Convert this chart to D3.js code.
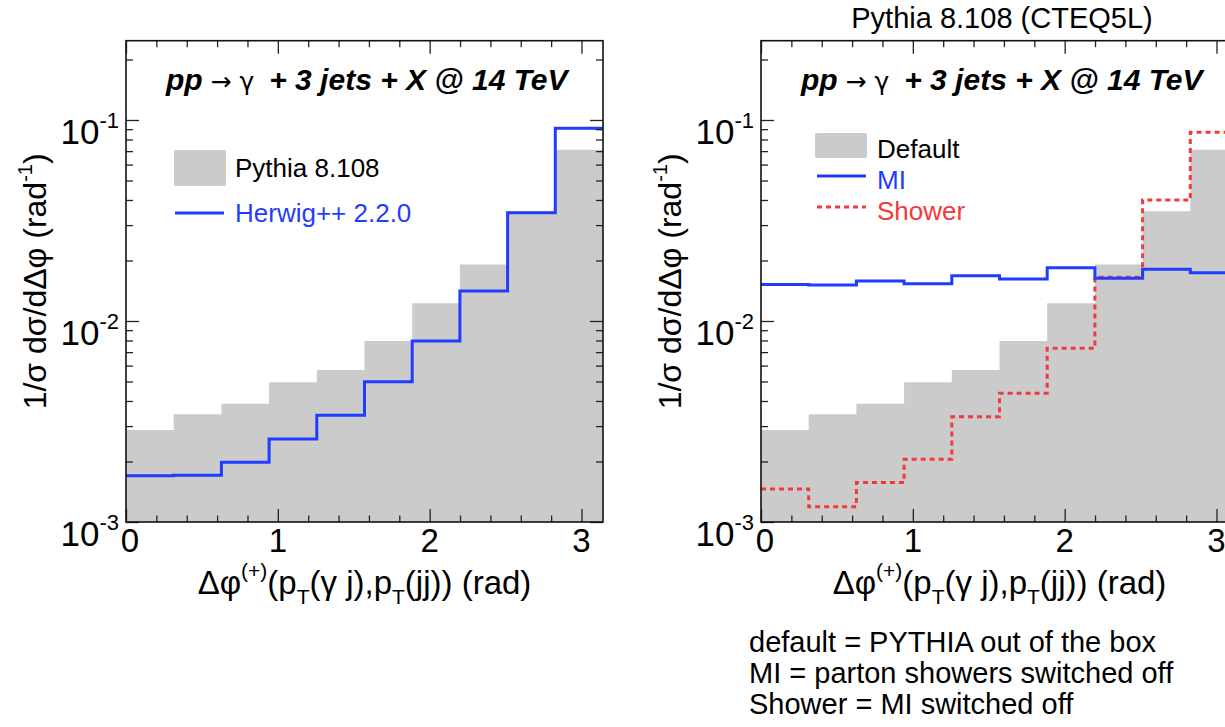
<!DOCTYPE html>
<html>
<head>
<meta charset="utf-8">
<script src="https://cdn.jsdelivr.net/npm/d3@7"></script>
<style>
  body { margin: 0; background: #fff; }
  svg { display: block; }
  text { font-family: "Liberation Sans", Arial, Helvetica, sans-serif; fill: #000; }
</style>
</head>
<body>
<svg id="fig" width="1225" height="727"></svg>
<script>
// Histogram binning: 10 equal bins over [0, pi]
const xMin = 0, xMax = Math.PI, nBins = 10;

// 1/sigma dsigma/dDeltaphi per bin
const pythiaDefault = [0.00287, 0.00344, 0.00387, 0.00496, 0.0057, 0.00795, 0.01225, 0.0191, 0.0352, 0.0712];
const herwig        = [0.00170, 0.00171, 0.00198, 0.00259, 0.0034, 0.00499, 0.00795, 0.0141, 0.0346, 0.091];
const miOnly        = [0.0152, 0.0151, 0.0158, 0.0153, 0.0168, 0.0162, 0.0184, 0.0163, 0.0181, 0.0174];
const showerOnly    = [0.00146, 0.00119, 0.00157, 0.00205, 0.00334, 0.00437, 0.00731, 0.0165, 0.0400, 0.0869];

// Axis ticks
const xMajorTicks = [0, 1, 2, 3];
const yMajorTicks = [1e-3, 1e-2, 1e-1];
const yTickExponents = ["-3", "-2", "-1"];
const yMin = 1e-3, yMax = 0.248;

// Text
const processLabel = { a: "pp", b: " \u2192 \u03B3 ", c: "+ 3 jets + X @ 14 TeV" };
const leftLegend = ["Pythia 8.108", "Herwig++ 2.2.0"];
const rightLegend = ["Default", "MI", "Shower"];
const rightTitle = "Pythia 8.108 (CTEQ5L)";
const notes = ["default = PYTHIA out of the box", "MI = parton showers switched off", "Shower = MI switched off"];

const colFill = "#cbcbcb", colBlue = "#1f3cff", colRed = "#f23a3a";

const svg = d3.select("#fig");
const frameTop = 40.7, frameBottom = 522, frameWidth = 477;
const edges = d3.range(nBins + 1).map(i => xMin + (xMax - xMin) * i / nBins);

function stepPoints(vals) {
  return edges.map((e, i) => [e, vals[Math.min(i, vals.length - 1)]]);
}

function panel(left, id) {
  const x = d3.scaleLinear().domain([xMin, xMax]).range([left, left + frameWidth]);
  const y = d3.scaleLog().domain([yMin, yMax]).range([frameBottom, frameTop]);
  const g = svg.append("g");

  g.append("clipPath").attr("id", "clip" + id)
    .append("rect").attr("x", left).attr("y", frameTop).attr("width", frameWidth).attr("height", frameBottom - frameTop);
  const plot = g.append("g").attr("clip-path", `url(#clip${id})`);

  const line = d3.line().x(d => x(d[0])).y(d => y(d[1])).curve(d3.curveStepAfter);
  const area = d3.area().x(d => x(d[0])).y0(frameBottom).y1(d => y(d[1])).curve(d3.curveStepAfter);

  plot.append("path").attr("d", area(stepPoints(pythiaDefault))).attr("fill", colFill);

  // ticks (inside the frame, mirrored on all sides)
  const xMinor = d3.range(0, 3.15, 0.2).filter(v => Math.abs(v - Math.round(v)) > 1e-6);
  const yMinor = [];
  [-3, -2, -1].forEach(k => d3.range(2, 10).forEach(m => {
    const v = m * Math.pow(10, k);
    if (v <= yMax) yMinor.push(v);
  }));
  const dropDomain = sel => sel.selectAll(".domain").remove();
  const styleTicks = sel => sel.selectAll("line").attr("stroke", "#222").attr("stroke-width", 1.3);

  g.append("g").attr("transform", `translate(0,${frameBottom})`)
    .call(d3.axisBottom(x).tickValues(xMajorTicks).tickSize(-13).tickFormat(""))
    .call(dropDomain).call(styleTicks);
  g.append("g").attr("transform", `translate(0,${frameBottom})`)
    .call(d3.axisBottom(x).tickValues(xMinor).tickSize(-6.5).tickFormat(""))
    .call(dropDomain).call(styleTicks);
  g.append("g").attr("transform", `translate(0,${frameTop})`)
    .call(d3.axisTop(x).tickValues(xMajorTicks).tickSize(-13).tickFormat(""))
    .call(dropDomain).call(styleTicks);
  g.append("g").attr("transform", `translate(0,${frameTop})`)
    .call(d3.axisTop(x).tickValues(xMinor).tickSize(-6.5).tickFormat(""))
    .call(dropDomain).call(styleTicks);
  g.append("g").attr("transform", `translate(${left},0)`)
    .call(d3.axisLeft(y).tickValues(yMajorTicks).tickSize(-13).tickFormat(""))
    .call(dropDomain).call(styleTicks);
  g.append("g").attr("transform", `translate(${left},0)`)
    .call(d3.axisLeft(y).tickValues(yMinor).tickSize(-7).tickFormat(""))
    .call(dropDomain).call(styleTicks);
  g.append("g").attr("transform", `translate(${left + frameWidth},0)`)
    .call(d3.axisRight(y).tickValues(yMajorTicks).tickSize(-13).tickFormat(""))
    .call(dropDomain).call(styleTicks);
  g.append("g").attr("transform", `translate(${left + frameWidth},0)`)
    .call(d3.axisRight(y).tickValues(yMinor).tickSize(-7).tickFormat(""))
    .call(dropDomain).call(styleTicks);

  g.append("rect").attr("x", left).attr("y", frameTop).attr("width", frameWidth).attr("height", frameBottom - frameTop)
    .attr("fill", "none").attr("stroke", "#111").attr("stroke-width", 1.6);

  // x tick labels
  g.selectAll(".xl").data(xMajorTicks).join("text")
    .attr("x", d => x(d) + (d === 0 ? 4 : 0)).attr("y", 552).attr("text-anchor", "middle")
    .attr("font-size", 33).text(d => d);

  // y tick labels 10^k
  yMajorTicks.forEach((v, i) => {
    const t = g.append("text").attr("x", left - 7).attr("y", y(v) + 24)
      .attr("text-anchor", "end").attr("font-size", 35);
    t.append("tspan").text("10");
    t.append("tspan").attr("font-size", 22).attr("dy", -16).text(yTickExponents[i]);
  });

  // x axis title
  const xt = g.append("text").attr("x", left + frameWidth / 2).attr("y", 594)
    .attr("text-anchor", "middle").attr("font-size", 33);
  xt.append("tspan").text("\u0394\u03C6");
  xt.append("tspan").attr("font-size", 21).attr("dy", -16).text("(+)");
  xt.append("tspan").attr("dy", 16).text("(p");
  xt.append("tspan").attr("font-size", 21).attr("dy", 10).text("T");
  xt.append("tspan").attr("dy", -10).text("(\u03B3 j),p");
  xt.append("tspan").attr("font-size", 21).attr("dy", 10).text("T");
  xt.append("tspan").attr("dy", -10).text("(jj)) (rad)");

  // y axis title
  const yt = g.append("text").attr("transform", `translate(${left - 80},${(frameTop + frameBottom) / 2}) rotate(-90)`)
    .attr("text-anchor", "middle").attr("font-size", 32);
  yt.append("tspan").text("1/\u03C3 d\u03C3/d\u0394\u03C6 (rad");
  yt.append("tspan").attr("font-size", 20).attr("dy", -14).text("-1");
  yt.append("tspan").attr("dy", 14).text(")");

  // process label
  const pl = g.append("text").attr("x", left + 40).attr("y", 90).attr("font-size", 30);
  pl.append("tspan").attr("font-weight", "bold").attr("font-style", "italic").text(processLabel.a);
  pl.append("tspan").attr("font-size", 25).style("font-family", "'DejaVu Sans', sans-serif").text(processLabel.b);
  pl.append("tspan").attr("dx", 7).attr("font-weight", "bold").attr("font-style", "italic").text(processLabel.c);

  return { g, plot, x, y, line };
}

// Left panel: Pythia vs Herwig++
const L = panel(126, "L");
L.plot.append("path").attr("d", L.line(stepPoints(herwig)))
  .attr("fill", "none").attr("stroke", colBlue).attr("stroke-width", 3);
L.g.append("rect").attr("x", 174).attr("y", 150).attr("width", 52).attr("height", 36)
  .attr("rx", 2).attr("fill", colFill);
L.g.append("text").attr("x", 235).attr("y", 177).attr("font-size", 26).text(leftLegend[0]);
L.g.append("line").attr("x1", 175).attr("x2", 224).attr("y1", 213).attr("y2", 213)
  .attr("stroke", colBlue).attr("stroke-width", 3);
L.g.append("text").attr("x", 235).attr("y", 222).attr("font-size", 26).style("fill", colBlue).text(leftLegend[1]);

// Right panel: Pythia variations
const R = panel(761, "R");
R.plot.append("path").attr("d", R.line(stepPoints(showerOnly)))
  .attr("fill", "none").attr("stroke", colRed).attr("stroke-width", 3).attr("stroke-dasharray", "5,4");
R.plot.append("path").attr("d", R.line(stepPoints(miOnly)))
  .attr("fill", "none").attr("stroke", colBlue).attr("stroke-width", 3);

R.g.append("rect").attr("x", 815).attr("y", 133).attr("width", 52).attr("height", 25)
  .attr("rx", 2).attr("fill", colFill);
R.g.append("text").attr("x", 877).attr("y", 158).attr("font-size", 26).text(rightLegend[0]);
R.g.append("line").attr("x1", 817).attr("x2", 866).attr("y1", 176).attr("y2", 176)
  .attr("stroke", colBlue).attr("stroke-width", 3);
R.g.append("text").attr("x", 877).attr("y", 189).attr("font-size", 26).style("fill", colBlue).text(rightLegend[1]);
R.g.append("line").attr("x1", 817).attr("x2", 866).attr("y1", 207).attr("y2", 207)
  .attr("stroke", colRed).attr("stroke-width", 3).attr("stroke-dasharray", "5,4");
R.g.append("text").attr("x", 877).attr("y", 220).attr("font-size", 26).style("fill", colRed).text(rightLegend[2]);

svg.append("text").attr("x", 1002).attr("y", 28).attr("text-anchor", "middle")
  .attr("font-size", 29).text(rightTitle);

svg.selectAll(".note").data(notes).join("text")
  .attr("x", 749).attr("y", (d, i) => 652 + i * 31).attr("font-size", 29).text(d => d);
</script>
</body>
</html>
